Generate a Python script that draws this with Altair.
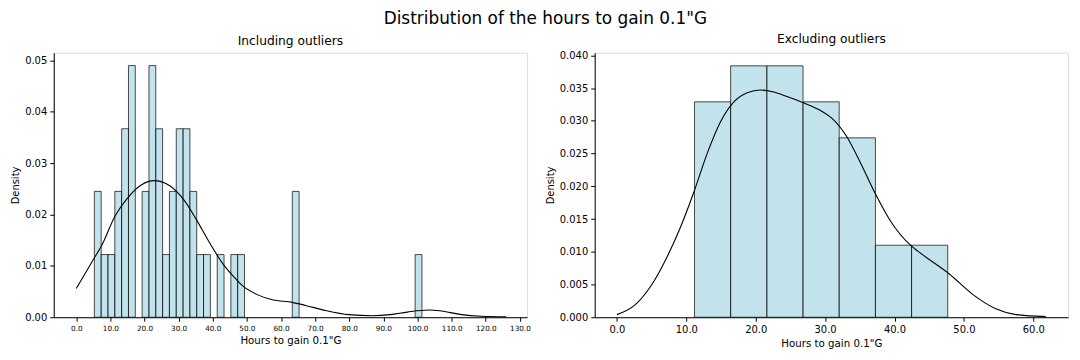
import altair as alt
import pandas as pd

FONT = "DejaVu Sans"

# ---- Left panel: including outliers ----
left_bin_start = [5.3, 7.3, 9.3, 11.3, 13.3, 15.3, 19.3, 21.3, 23.3, 25.3, 27.3,
                  29.3, 31.3, 33.3, 35.3, 37.3, 41.3, 45.3, 47.3, 63.3, 99.3]
left_bin_end = [7.3, 9.3, 11.3, 13.3, 15.3, 17.3, 21.3, 23.3, 25.3, 27.3, 29.3,
                31.3, 33.3, 35.3, 37.3, 39.3, 43.3, 47.3, 49.3, 65.3, 101.3]
left_density = [0.0245, 0.0122, 0.0122, 0.0245, 0.0367, 0.0490, 0.0245, 0.0490,
                0.0367, 0.0122, 0.0245, 0.0367, 0.0367, 0.0245, 0.0122, 0.0122,
                0.0122, 0.0122, 0.0122, 0.0245, 0.0122]

left_kde_x = [0, 5.05, 7.48, 11.37, 14.77, 19.15, 22.8, 27.4, 31.8, 35.2, 39.06,
              43.4, 45.85, 48.77, 52.7, 57.5, 63.3, 67.2, 73.1, 79.9, 86.7, 92,
              97, 103.2, 107, 112.9, 118.7, 126.0]
left_kde_y = [0.0056, 0.0113, 0.0140, 0.0197, 0.0230, 0.0258, 0.0266, 0.0256,
              0.0226, 0.0190, 0.0145, 0.0100, 0.0081, 0.0061, 0.0045, 0.0034,
              0.0029, 0.0023, 0.0013, 0.0005, 0.0003, 0.0005, 0.0010, 0.0014,
              0.0012, 0.0005, 0.0002, 0.0001]

left_x_ticks = [0, 10, 20, 30, 40, 50, 60, 70, 80, 90, 100, 110, 120, 130]
left_y_ticks = [0.0, 0.01, 0.02, 0.03, 0.04, 0.05]

# ---- Right panel: excluding outliers ----
right_bin_start = [11.18, 16.39, 21.61, 26.82, 32.03, 37.25, 42.46]
right_bin_end = [16.39, 21.61, 26.82, 32.03, 37.25, 42.46, 47.67]
right_density = [0.0329, 0.0384, 0.0384, 0.0329, 0.0274, 0.0110, 0.0110]

right_kde_x = [0, 2.53, 4.92, 7.31, 9.22, 11.12, 13.04, 14.95, 16.86, 18.78,
               20.68, 22.59, 24.5, 26.75, 29.28, 30.96, 33.1, 35.0, 37.17, 39.3,
               42.3, 43.6, 47.9, 51.26, 54.6, 57.5, 61.8]
right_kde_y = [0.0004, 0.0018, 0.0048, 0.0094, 0.0139, 0.0192, 0.0251, 0.0299,
               0.0329, 0.0343, 0.0347, 0.0344, 0.0337, 0.0328, 0.0316, 0.0304,
               0.0276, 0.0238, 0.0190, 0.0149, 0.0110, 0.0099, 0.0066, 0.0035,
               0.0013, 0.0004, 0.0001]

right_x_ticks = [0, 10, 20, 30, 40, 50, 60]
right_y_ticks = [0.0, 0.005, 0.01, 0.015, 0.02, 0.025, 0.03, 0.035, 0.04]

X_TITLE = 'Hours to gain 0.1"G'
W, H = 476, 266


def panel(title, bs, be, dens, kx, ky, xdom, ydom, xticks, yticks, xlab_size, yfmt):
    bars_df = pd.DataFrame({"start": bs, "end": be, "density": dens})
    kde_df = pd.DataFrame({"x": kx, "y": ky})
    xscale = alt.Scale(domain=xdom, nice=False, zero=False)
    yscale = alt.Scale(domain=ydom, nice=False, zero=False)
    common = dict(grid=False, labelOverlap=False, labelFont=FONT, titleFont=FONT,
                  labelColor="black", titleColor="black", titleFontWeight="normal",
                  domainColor="black", tickColor="black", tickSize=4, labelPadding=3)
    xaxis = alt.Axis(values=xticks, format=".1f", title=X_TITLE,
                     labelFontSize=xlab_size, titleFontSize=10.3,
                     titlePadding=4, labelFlush=False, **common)
    yaxis = alt.Axis(values=yticks, format=yfmt, title="Density",
                     labelFontSize=10, titleFontSize=10, titlePadding=4, **common)
    bars = alt.Chart(bars_df).mark_rect(
        fill="#add8e6", fillOpacity=0.75, stroke="black", strokeOpacity=0.7,
        strokeWidth=1
    ).encode(
        x=alt.X("start:Q", scale=xscale, axis=xaxis),
        x2="end:Q",
        y=alt.Y("density:Q", scale=yscale, axis=yaxis),
        y2=alt.datum(0),
    )
    line = alt.Chart(kde_df).mark_line(
        color="black", strokeWidth=1.1, interpolate="monotone"
    ).encode(
        x=alt.X("x:Q", scale=xscale, axis=xaxis),
        y=alt.Y("y:Q", scale=yscale, axis=yaxis),
    )
    return alt.layer(bars, line).resolve_axis(x="shared", y="shared").properties(
        width=W, height=H,
        title=alt.TitleParams(title, fontSize=12.3, fontWeight="normal",
                              font=FONT, offset=5, color="black"),
    )


left = panel("Including outliers", left_bin_start, left_bin_end, left_density,
             left_kde_x, left_kde_y, [-6.6, 132.1], [0, 0.0515],
             left_x_ticks, left_y_ticks, 7.3, ".2f")
right = panel("Excluding outliers", right_bin_start, right_bin_end, right_density,
              right_kde_x, right_kde_y, [-3.2, 65.0], [0, 0.0404],
              right_x_ticks, right_y_ticks, 10, ".3f")

chart = alt.hconcat(left, right, spacing=13).properties(
    title=alt.TitleParams('Distribution of the hours to gain 0.1"G', fontSize=17,
                          fontWeight="normal", font=FONT, anchor="middle", offset=5,
                          dx=6, color="black"),
    padding={"left": 2, "top": 0, "right": 3, "bottom": 5},
).configure_view(
    stroke="#222222", strokeWidth=1
).configure(background="white")

chart.save("out.html", embed_options={"renderer": "svg", "actions": False})
